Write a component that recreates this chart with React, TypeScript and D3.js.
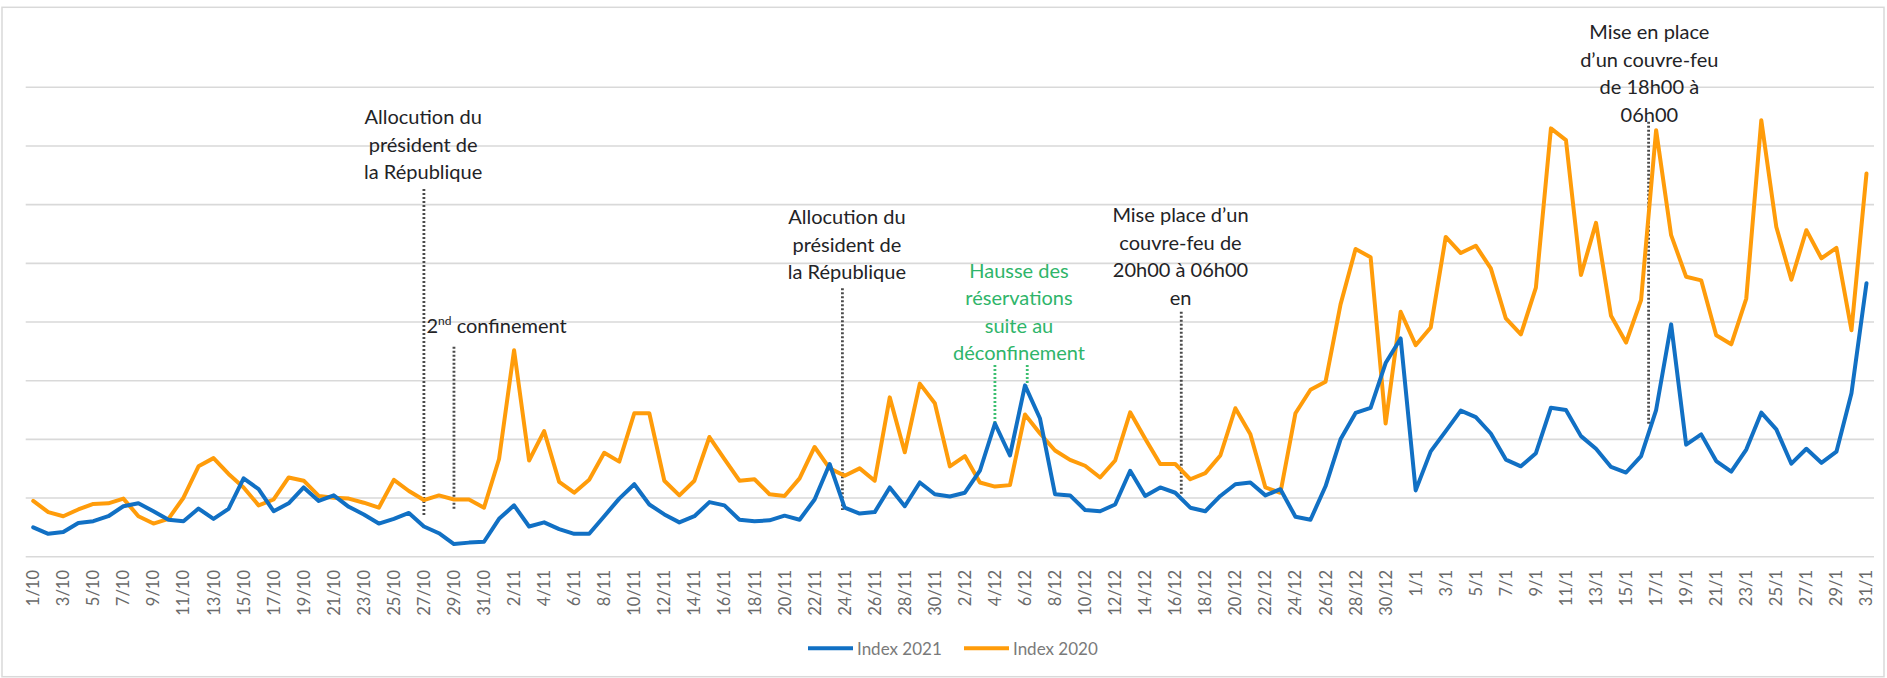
import React from "react";
import * as d3 from "d3";

const W = 1887;
const H = 678;

// Months covered: Oct 2020 -> Jan 2021 (daily)
const months = [
  { m: 10, days: 31 },
  { m: 11, days: 30 },
  { m: 12, days: 31 },
  { m: 1, days: 31 },
];
const dates: string[] = [];
months.forEach((mm) => {
  for (let d = 1; d <= mm.days; d++) dates.push(`${d}/${mm.m}`);
});

const index2021 = [
  10.0, 7.8, 8.4, 11.5, 12.1, 13.8, 17.2, 18.2, 15.5, 12.6,
  12.1, 16.4, 12.9, 16.3, 26.7, 23.0, 15.5, 18.2, 23.6, 19.0,
  20.9, 17.0, 14.4, 11.3, 12.9, 14.9, 10.3, 8.0, 4.3, 4.8,
  5.1, 12.9, 17.5, 10.3, 11.7, 9.4, 7.8, 7.8, 13.8, 19.8,
  24.7, 17.8, 14.4, 11.7, 13.8, 18.6, 17.5, 12.6, 12.1, 12.4,
  14.0, 12.6, 19.5, 31.6, 16.7, 14.7, 15.2, 23.6, 17.2, 25.3,
  21.3, 20.5, 21.8, 29.3, 45.4, 34.5, 58.4, 47.1, 21.3, 20.9,
  15.9, 15.5, 17.8, 29.3, 20.7, 23.6, 21.8, 16.7, 15.5, 20.7,
  24.7, 25.3, 20.9, 23.0, 13.6, 12.6, 24.0, 40.0, 49.0, 50.7,
  66.0, 74.4, 22.6, 35.9, 42.8, 49.8, 47.6, 42.0, 33.1, 30.8,
  35.3, 50.8, 50.0, 41.1, 36.8, 30.6, 28.7, 34.3, 50.0, 79.2,
  38.2, 41.7, 32.6, 29.0, 36.5, 49.1, 43.4, 31.7, 36.8, 32.0,
  35.8, 55.7, 93.2,
];

const index2020 = [
  19.0, 15.2, 13.8, 16.1, 18.0, 18.2, 19.8, 13.8, 11.3, 12.9,
  20.1, 30.8, 33.6, 28.2, 23.6, 17.5, 19.5, 27.0, 25.9, 20.7,
  20.1, 19.8, 18.4, 16.7, 26.2, 22.4, 19.3, 20.9, 19.5, 19.5,
  16.7, 33.3, 70.4, 32.8, 42.8, 25.5, 21.8, 26.2, 35.4, 32.4,
  48.9, 48.9, 25.9, 20.9, 25.9, 40.8, 33.3, 25.9, 26.4, 21.3,
  20.7, 26.7, 37.4, 30.1, 27.6, 30.1, 25.9, 54.3, 35.6, 59.0,
  52.3, 30.8, 34.3, 25.3, 23.9, 24.4, 48.5, 42.0, 36.2, 33.0,
  31.0, 27.0, 32.8, 49.2, 40.2, 31.6, 31.6, 26.4, 28.5, 34.5,
  50.6, 41.7, 23.6, 21.8, 48.9, 56.9, 59.6, 86.0, 104.9, 102.1,
  45.4, 83.5, 72.1, 78.1, 109.0, 103.5, 106.0, 98.3, 81.2, 75.8,
  91.7, 146.0, 142.0, 96.0, 113.8, 82.1, 73.0, 87.5, 145.4, 109.6,
  95.4, 94.2, 75.5, 72.4, 88.0, 148.8, 112.4, 94.4, 111.3, 101.7,
  105.3, 77.2, 130.6,
];

const gridTicks = [0, 20, 40, 60, 80, 100, 120, 140, 160];

const seriesNames = ["Index 2021", "Index 2020"];
const seriesColors = ["#1170c4", "#ff9c0a"];

// Annotations: text lines
const annotations = [
  { lines: ["Allocution du", "président de", "la République"], color: "#232326" },
  { lines: ["Allocution du", "président de", "la République"], color: "#232326" },
  { lines: ["Hausse des", "réservations", "suite au", "déconfinement"], color: "#2fb56a" },
  { lines: ["Mise place d\u2019un", "couvre-feu de", "20h00 à 06h00", "en"], color: "#232326" },
  { lines: ["Mise en place", "d\u2019un couvre-feu", "de 18h00 à", "06h00"], color: "#232326" },
];

export default function App() {
  const n = dates.length;
  const x = d3.scaleLinear().domain([-0.5, n - 0.5]).range([25.7, 1874]);
  const y = d3.scaleLinear().domain([0, 160]).range([556.7, 87.3]);

  const line = d3
    .line<number>()
    .x((_, i) => x(i))
    .y((d) => y(d));

  const font = "Lato, 'Open Sans', sans-serif";
  const lh = 27.5;

  const annTop = [124.3, 224.3, 277.7, 222, 39.3];
  const annX = [x(25.95), x(54.15), x(65.6), x(76.35), x(107.55)];

  const dotted = [
    { i: 26, y0: 189, y1: 516.7, c: "#4a4a4a" },
    { i: 28, y0: 346.7, y1: 510, c: "#4a4a4a" },
    { i: 53.85, y0: 288.3, y1: 510, c: "#4a4a4a" },
    { i: 76.4, y0: 311.7, y1: 495, c: "#4a4a4a" },
    { i: 107.5, y0: 121.7, y1: 425, c: "#4a4a4a" },
    { i: 64, y0: 365, y1: y(index2021[64]), c: "#3cbf70" },
    { i: 66.15, y0: 365, y1: y(index2021[66]), c: "#3cbf70" },
  ];

  return (
    <svg
      width={W}
      height={H}
      style={{ position: "absolute", left: 0, top: 0, background: "#fff" }}
      fontFamily={font}
    >
      <rect x={0} y={0} width={W} height={H} fill="#fff" />
      <rect x={2} y={7.3} width={1882} height={669.4} fill="none" stroke="#d9d9d9" strokeWidth={1.5} />

      {gridTicks.map((t) => (
        <line key={t} x1={25.7} x2={1874} y1={y(t)} y2={y(t)} stroke="#d9d9d9" strokeWidth={1.6} />
      ))}

      {dates.map((d, i) =>
        i % 2 === 0 ? (
          <text
            key={d}
            transform={`translate(${x(i)},570) rotate(-90)`}
            textAnchor="end"
            dominantBaseline="central"
            fontSize={16.5}
            fill="#6a6a6a"
          >
            {d}
          </text>
        ) : null
      )}

      {dotted.map((dl, k) => (
        <line
          key={k}
          x1={x(dl.i)}
          x2={x(dl.i)}
          y1={dl.y0}
          y2={dl.y1}
          stroke={dl.c}
          strokeWidth={2.8}
          strokeDasharray="2,2"
        />
      ))}

      <path d={line(index2020) || ""} fill="none" stroke={seriesColors[1]} strokeWidth={4} strokeLinejoin="round" strokeLinecap="round" />
      <path d={line(index2021) || ""} fill="none" stroke={seriesColors[0]} strokeWidth={4} strokeLinejoin="round" strokeLinecap="round" />

      {annotations.map((a, k) => (
        <text key={k} textAnchor="middle" fontSize={20} fill={a.color}>
          {a.lines.map((l, j) => (
            <tspan key={j} x={annX[k]} y={annTop[k] + j * lh}>
              {l}
            </tspan>
          ))}
        </text>
      ))}

      <text x={426.5} y={333} fontSize={20} fill="#232326">
        2<tspan fontSize={12} dy={-8}>nd</tspan>
        <tspan dy={8}> confinement</tspan>
      </text>

      {/* Legend */}
      {seriesNames.map((s, k) => {
        const lx = [808, 964][k];
        return (
          <g key={s}>
            <line x1={lx} x2={lx + 45} y1={648.3} y2={648.3} stroke={seriesColors[k]} strokeWidth={4} />
            <text x={lx + 49} y={648.3} dominantBaseline="central" fontSize={17} fill="#7a7a7a">
              {s}
            </text>
          </g>
        );
      })}
    </svg>
  );
}
